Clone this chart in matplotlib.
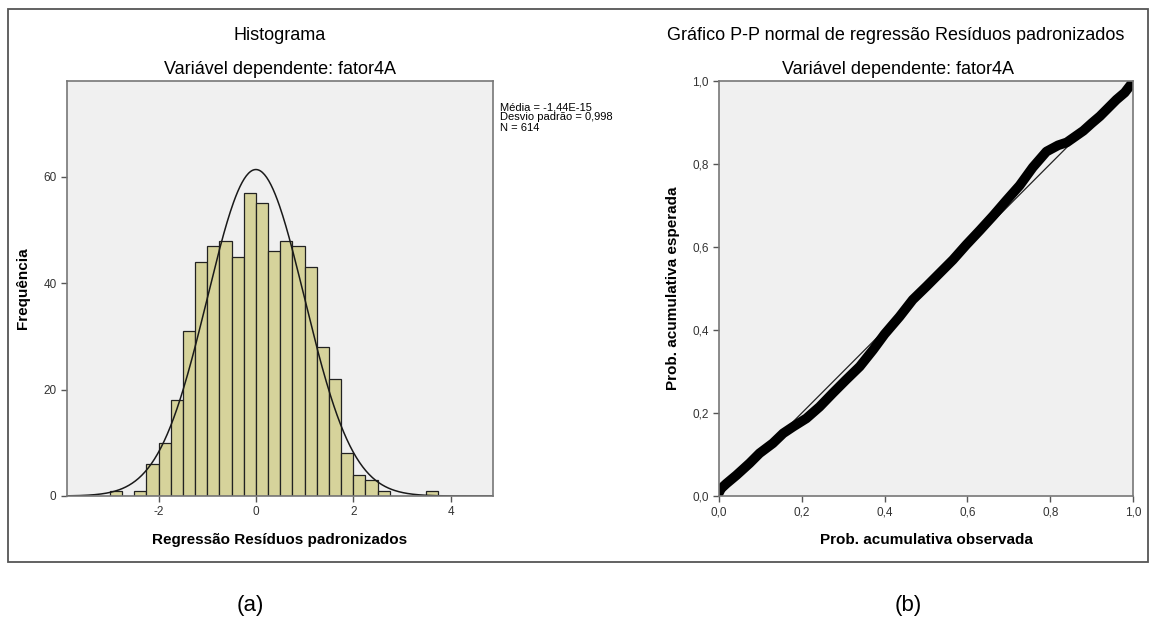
import numpy as np
import matplotlib
matplotlib.use("Agg")
import matplotlib.pyplot as plt
from matplotlib.patches import Rectangle

plt.rcParams['font.family'] = ['Liberation Sans', 'DejaVu Sans']
plt.rcParams['axes.unicode_minus'] = False

# histogram of standardized residuals (bin width 0.25)
bin_left = [-3.0, -2.75, -2.5, -2.25, -2.0, -1.75, -1.5, -1.25, -1.0, -0.75, -0.5, -0.25,
            0.0, 0.25, 0.5, 0.75, 1.0, 1.25, 1.5, 1.75, 2.0, 2.25, 2.5, 2.75, 3.0, 3.25, 3.5]
counts = [1, 0, 1, 6, 10, 18, 31, 44, 47, 48, 45, 57,
          55, 46, 48, 47, 43, 28, 22, 8, 4, 3, 1, 0, 0, 0, 1]
bin_w = 0.25
media = -1.44e-15
desvio = 0.998
n_obs = 614

# P-P plot points
pp_obs = [0.0, 0.005, 0.018, 0.042, 0.074, 0.098, 0.13, 0.155, 0.179, 0.211, 0.243, 0.275,
          0.307, 0.34, 0.372, 0.40, 0.436, 0.468, 0.501, 0.533, 0.565, 0.597, 0.63, 0.662,
          0.694, 0.726, 0.758, 0.791, 0.819, 0.84, 0.86, 0.88, 0.90, 0.92, 0.94, 0.96,
          0.98, 0.99, 1.0]
pp_exp = [0.008, 0.018, 0.03, 0.05, 0.079, 0.103, 0.127, 0.151, 0.167, 0.187, 0.215, 0.248,
          0.28, 0.312, 0.352, 0.39, 0.432, 0.473, 0.505, 0.537, 0.569, 0.605, 0.64, 0.675,
          0.712, 0.748, 0.792, 0.83, 0.845, 0.852, 0.866, 0.88, 0.898, 0.915, 0.935, 0.955,
          0.972, 0.985, 0.998]

W, H = 1156, 619
fig = plt.figure(figsize=(W / 100, H / 100), dpi=100)
fig.patch.set_facecolor('white')

def fx(px):
    return px / W

def fy(py):
    return 1 - py / H

bg = '#f0f0f0'
tick_col = '#333333'

# border around both charts
fig.patches.append(Rectangle((fx(8), fy(562)), fx(1148) - fx(8), fy(9) - fy(562),
                             transform=fig.transFigure, fill=False,
                             edgecolor='#555555', lw=1.3))

# ---- histogram ----
ax1 = fig.add_axes([fx(67), fy(496), fx(493) - fx(67), fy(81) - fy(496)])
ax1.set_facecolor(bg)
ax1.bar(bin_left, counts, width=bin_w, align='edge', color='#d6d39b',
        edgecolor='#222222', linewidth=0.9)
xs = np.linspace(-3.88, 4.87, 400)
curve = n_obs * bin_w * np.exp(-0.5 * ((xs - media) / desvio) ** 2) / (desvio * np.sqrt(2 * np.pi))
ax1.plot(xs, curve, color='#1a1a1a', lw=1.1)
ax1.set_xlim(-3.88, 4.87)
ax1.set_ylim(0, 78)
ax1.set_xticks([-2, 0, 2, 4])
ax1.set_yticks([0, 20, 40, 60])
ax1.set_xlabel('Regressão Resíduos padronizados', fontsize=11, fontweight='bold')
ax1.set_ylabel('Frequência', fontsize=11, fontweight='bold')
ax1.xaxis.set_label_coords(0.5, -0.088)
ax1.yaxis.set_label_coords(-0.087, 0.5)
fig.text(fx(280), fy(36), 'Histograma', ha='center', va='center', fontsize=13)
fig.text(fx(280), fy(69), 'Variável dependente: fator4A', ha='center', va='center', fontsize=13)
fig.text(fx(500), fy(102), 'Média = -1,44E-15\nDesvio padrão = 0,998\nN = 614',
         ha='left', va='top', fontsize=8, linespacing=1.05)

# ---- P-P plot ----
ax2 = fig.add_axes([fx(719), fy(496), fx(1133) - fx(719), fy(81) - fy(496)])
ax2.set_facecolor(bg)
ax2.plot([0, 1], [0, 1], color='#222222', lw=0.9)
ax2.plot(pp_obs, pp_exp, color='black', lw=7, solid_capstyle='round', solid_joinstyle='round')
ax2.set_xlim(0, 1)
ax2.set_ylim(0, 1)
pp_ticks = [0, 0.2, 0.4, 0.6, 0.8, 1.0]
pp_labels = ['0,0', '0,2', '0,4', '0,6', '0,8', '1,0']
ax2.set_xticks(pp_ticks)
ax2.set_xticklabels(pp_labels)
ax2.set_yticks(pp_ticks)
ax2.set_yticklabels(pp_labels)
ax2.set_xlabel('Prob. acumulativa observada', fontsize=11, fontweight='bold')
ax2.set_ylabel('Prob. acumulativa esperada', fontsize=11, fontweight='bold')
ax2.xaxis.set_label_coords(0.5, -0.088)
ax2.yaxis.set_label_coords(-0.094, 0.5)
fig.text(fx(896), fy(36), 'Gráfico P-P normal de regressão Resíduos padronizados',
         ha='center', va='center', fontsize=13)
fig.text(fx(898), fy(69), 'Variável dependente: fator4A', ha='center', va='center', fontsize=13)

for ax in (ax1, ax2):
    for s in ax.spines.values():
        s.set_color('#777777')
        s.set_linewidth(1.2)
    ax.tick_params(direction='out', length=4, width=1, colors='#555555',
                   labelcolor=tick_col, labelsize=8.5)

fig.text(fx(250), fy(605), '(a)', ha='center', va='center', fontsize=16)
fig.text(fx(908), fy(605), '(b)', ha='center', va='center', fontsize=16)

fig.savefig('out.png', dpi=100)
